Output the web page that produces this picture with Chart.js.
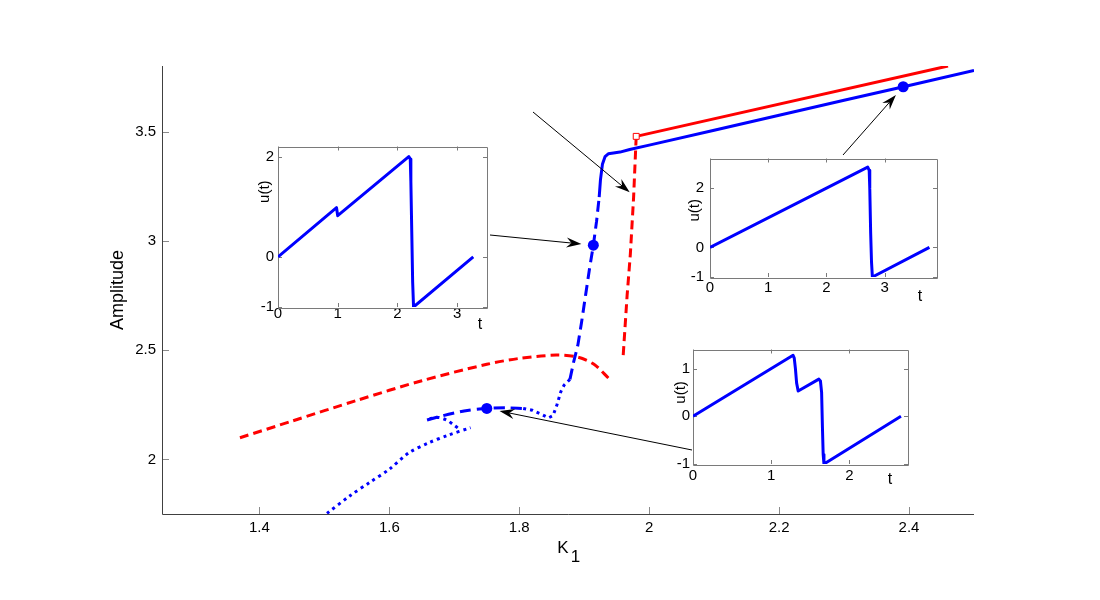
<!DOCTYPE html>
<html>
<head>
<meta charset="utf-8">
<script src="https://cdn.jsdelivr.net/npm/chart.js@4/dist/chart.umd.min.js"></script>
<style>
    html, body { margin: 0; padding: 0; background: #fff; }
    #wrap { position: relative; width: 1100px; height: 600px; overflow: hidden; }
    #wrap canvas { position: absolute; }
</style>
</head>
<body>
<div id="wrap">
    <canvas id="main" width="1100" height="600" style="left:0;top:0;width:1100px;height:600px"></canvas>
    <canvas id="inset1" width="259" height="202" style="left:238px;top:135px;width:259px;height:202px"></canvas>
    <canvas id="inset2" width="277" height="162" style="left:670px;top:145px;width:277px;height:162px"></canvas>
    <canvas id="inset3" width="265" height="155" style="left:653px;top:339px;width:265px;height:155px"></canvas>
</div>
<script>
// ---- main diagram: amplitude vs K1 ----
const kTicks = [1.4, 1.6, 1.8, 2, 2.2, 2.4];
const kTickLabels = ['1.4', '1.6', '1.8', '2', '2.2', '2.4'];
const ampTicks = [2, 2.5, 3, 3.5];
const ampTickLabels = ['2', '2.5', '3', '3.5'];

// blue branch, stable part (solid)
const blueSolidK = [1.923, 1.925, 1.928, 1.932, 1.937, 1.945, 1.955, 1.97, 2.0, 2.1, 2.2, 2.3, 2.4, 2.5];
const blueSolidA = [3.20, 3.28, 3.35, 3.385, 3.398, 3.402, 3.406, 3.418, 3.438, 3.506, 3.575, 3.643, 3.711, 3.78];
// blue branch, dashed parts
const blueDashUpK = [1.878, 1.884, 1.890, 1.896, 1.902, 1.908, 1.914, 1.919, 1.923];
const blueDashUpA = [2.366, 2.45, 2.52, 2.63, 2.75, 2.87, 2.98, 3.09, 3.20];
const blueDashLowK = [1.658, 1.68, 1.70, 1.72, 1.75, 1.78, 1.806];
const blueDashLowA = [2.180, 2.198, 2.212, 2.224, 2.233, 2.236, 2.233];
// blue branch, dotted parts
const blueDotMidK = [1.806, 1.82, 1.835, 1.845, 1.852, 1.858, 1.864, 1.869, 1.878];
const blueDotMidA = [2.233, 2.225, 2.205, 2.19, 2.20, 2.25, 2.31, 2.34, 2.366];
const blueHookK = [1.662, 1.675, 1.688, 1.698, 1.708];
const blueHookA = [2.186, 2.192, 2.18, 2.16, 2.138];
const blueDotLowK = [1.504, 1.54, 1.57, 1.60, 1.63, 1.66, 1.69, 1.725];
const blueDotLowA = [1.753, 1.835, 1.895, 1.955, 2.03, 2.075, 2.11, 2.145];

// red branch
const redSolidK = [1.98, 2.46];
const redSolidA = [3.478, 3.80];
const redDashUpK = [1.960, 1.966, 1.971, 1.976, 1.980];
const redDashUpA = [2.477, 2.75, 2.94, 3.20, 3.478];
const redDashLowK = [1.37, 1.45, 1.55, 1.65, 1.75, 1.80, 1.857, 1.89, 1.915, 1.938];
const redDashLowA = [2.099, 2.175, 2.27, 2.36, 2.435, 2.462, 2.477, 2.468, 2.435, 2.37];

// marked solutions (shown in the insets) and the fold point
const dotK = [1.914, 1.75, 2.391];
const dotA = [2.98, 2.233, 3.705];
const squareK = [1.98];
const squareA = [3.478];

// ---- insets: u(t) over one period ----
const inset1T = [0, 0.98, 1.0, 2.19, 2.215, 2.225, 2.24, 2.255, 2.27, 3.27];
const inset1U = [0, 0.98, 0.82, 2.0, 1.95, 1.5, 0.5, -0.5, -1.0, 0];
const inset1TTicks = [0, 1, 2, 3];
const inset1UTicks = [-1, 0, 2];

const inset2T = [0, 2.71, 2.735, 2.745, 2.76, 2.775, 2.79, 3.77];
const inset2U = [0, 2.71, 2.6, 2.0, 0.5, -0.5, -1.0, 0];
const inset2TTicks = [0, 1, 2, 3];
const inset2UTicks = [-1, 0, 2];

const inset3T = [0, 1.28, 1.295, 1.31, 1.325, 1.345, 1.61, 1.63, 1.645, 1.655, 1.665, 1.675, 2.66];
const inset3U = [0, 1.28, 1.22, 1.0, 0.7, 0.53, 0.78, 0.74, 0.5, -0.2, -0.8, -1.0, 0];
const inset3TTicks = [0, 1, 2];
const inset3UTicks = [-1, 0, 1];

Chart.defaults.font.family = '"Liberation Sans", Arial, Helvetica, sans-serif';
Chart.defaults.color = '#000';

const BLUE = '#0000ff';
const RED = '#ff0000';

const pts = (xs, ys) => xs.map((x, i) => ({ x: x, y: ys[i] }));

function lineSet(xs, ys, color, dash, tension) {
    return {
        data: pts(xs, ys),
        borderColor: color,
        backgroundColor: color,
        borderWidth: 3,
        borderDash: dash || [],
        borderJoinStyle: 'round',
        pointRadius: 0,
        tension: tension || 0,
        fill: false
    };
}

// box, inward ticks and axis titles (drawn under the curves)
const framePlugin = {
    id: 'frame',
    beforeDatasetsDraw(chart, args, o) {
        const { ctx, chartArea: a, scales } = chart;
        ctx.save();
        if (o.fill) {
            ctx.fillStyle = o.fill;
            ctx.fillRect(a.left, a.top, a.right - a.left, a.bottom - a.top);
        }
        ctx.lineWidth = 1;
        ctx.strokeStyle = o.tickColor;
        ctx.beginPath();
        scales.x.ticks.forEach(t => {
            const px = Math.round(scales.x.getPixelForValue(t.value)) + 0.5;
            ctx.moveTo(px, a.bottom); ctx.lineTo(px, a.bottom - o.tickLen);
            if (o.box) { ctx.moveTo(px, a.top); ctx.lineTo(px, a.top + o.tickLen); }
        });
        scales.y.ticks.forEach(t => {
            const py = Math.round(scales.y.getPixelForValue(t.value)) + 0.5;
            ctx.moveTo(a.left, py); ctx.lineTo(a.left + o.tickLen, py);
            if (o.box) { ctx.moveTo(a.right, py); ctx.lineTo(a.right - o.tickLen, py); }
        });
        ctx.stroke();

        ctx.strokeStyle = o.axisColor;
        const l = Math.round(a.left) + 0.5, b = Math.round(a.bottom) + 0.5;
        ctx.beginPath();
        if (o.box) {
            ctx.rect(l, Math.round(a.top) + 0.5, Math.round(a.right - a.left), Math.round(a.bottom - a.top));
        } else {
            ctx.moveTo(l, a.top); ctx.lineTo(l, b); ctx.lineTo(a.right, b);
        }
        ctx.stroke();

        // y title, rotated
        ctx.fillStyle = '#000';
        ctx.font = o.yTitleSize + 'px ' + Chart.defaults.font.family;
        ctx.textAlign = 'center';
        ctx.textBaseline = 'middle';
        const yMid = o.yTitleAt !== undefined ? scales.y.getPixelForValue(o.yTitleAt) : (a.top + a.bottom) / 2;
        ctx.save();
        ctx.translate(a.left + o.yTitleDx, yMid);
        ctx.rotate(-Math.PI / 2);
        ctx.fillText(o.yTitle, 0, 0);
        ctx.restore();

        // x title, optional subscript
        ctx.font = o.xTitleSize + 'px ' + Chart.defaults.font.family;
        const xc = o.xTitleFromRight ? a.right + o.xTitleDx : (a.left + a.right) / 2 + o.xTitleDx;
        const yc = a.bottom + o.xTitleDy;
        if (o.xSub) {
            const w = ctx.measureText(o.xTitle).width;
            ctx.textAlign = 'left';
            ctx.fillText(o.xTitle, xc - w / 2 - 4, yc);
            ctx.fillText(o.xSub, xc + w / 2 - 2, yc + 9);
        } else {
            ctx.fillText(o.xTitle, xc, yc);
        }
        ctx.restore();
    }
};

// arrows from the insets to the marked points
const arrowPlugin = {
    id: 'arrows',
    afterDatasetsDraw(chart, args, o) {
        const { ctx, scales } = chart;
        ctx.save();
        ctx.strokeStyle = '#000';
        ctx.fillStyle = '#000';
        ctx.lineWidth = 1;
        o.items.forEach(it => {
            const [x0, y0] = it.from;
            let x1 = scales.x.getPixelForValue(it.k);
            let y1 = scales.y.getPixelForValue(it.a);
            const ang = Math.atan2(y1 - y0, x1 - x0);
            x1 -= Math.cos(ang) * it.gap;
            y1 -= Math.sin(ang) * it.gap;
            const L = 15, W = 5, N = 10;
            ctx.beginPath();
            ctx.moveTo(x0, y0);
            ctx.lineTo(x1 - Math.cos(ang) * N, y1 - Math.sin(ang) * N);
            ctx.stroke();
            ctx.save();
            ctx.translate(x1, y1);
            ctx.rotate(ang);
            ctx.beginPath();
            ctx.moveTo(0, 0);
            ctx.lineTo(-L, -W);
            ctx.lineTo(-N, 0);
            ctx.lineTo(-L, W);
            ctx.closePath();
            ctx.fill();
            ctx.restore();
        });
        ctx.restore();
    }
};

function fixedTicks(values) {
    return axis => { axis.ticks = values.map(v => ({ value: v })); };
}

new Chart(document.getElementById('main'), {
    type: 'line',
    data: {
        datasets: [
            {
                data: pts(dotK, dotA), showLine: false,
                pointRadius: 5.5, pointBackgroundColor: BLUE, pointBorderWidth: 0
            },
            {
                data: pts(squareK, squareA), showLine: false, pointStyle: 'rect',
                pointRadius: 4.2, pointBackgroundColor: '#fff', pointBorderColor: RED, pointBorderWidth: 1
            },
            lineSet(blueSolidK, blueSolidA, BLUE),
            lineSet(blueDashUpK, blueDashUpA, BLUE, [11, 6]),
            lineSet(blueDashLowK, blueDashLowA, BLUE, [11, 6], 0.3),
            lineSet(blueDotMidK, blueDotMidA, BLUE, [3, 4]),
            lineSet(blueHookK, blueHookA, BLUE, [3, 4], 0.3),
            lineSet(blueDotLowK, blueDotLowA, BLUE, [3, 4], 0.3),
            lineSet(redSolidK, redSolidA, RED),
            lineSet(redDashUpK, redDashUpA, RED, [9, 5]),
            lineSet(redDashLowK, redDashLowA, RED, [9, 5], 0.3)
        ]
    },
    options: {
        responsive: false,
        animation: false,
        layout: { padding: { left: 0, top: 66, right: 126, bottom: 0 } },
        plugins: {
            legend: { display: false },
            tooltip: { enabled: false },
            frame: {
                box: false, tickLen: 7, tickColor: '#8a8a8a', axisColor: '#404040',
                yTitle: 'Amplitude', yTitleSize: 18, yTitleDx: -44,
                xTitle: 'K', xSub: '1', xTitleSize: 17, xTitleDx: -1, xTitleDy: 34
            },
            arrows: {
                items: [
                    { from: [490, 235], k: 1.914, a: 2.98, gap: 12 },
                    { from: [533, 112], k: 1.970, a: 3.222, gap: 0 },
                    { from: [843, 155], k: 2.391, a: 3.705, gap: 11 },
                    { from: [692, 450], k: 1.75, a: 2.233, gap: 13 }
                ]
            }
        },
        scales: {
            x: {
                type: 'linear', min: 1.25, max: 2.5,
                afterBuildTicks: fixedTicks(kTicks),
                afterFit: axis => { axis.height = 86; },
                grid: { display: false, drawTicks: false }, border: { display: false },
                ticks: {
                    autoSkip: false, maxRotation: 0, padding: 6.5,
                    font: { size: 15, lineHeight: 1 },
                    callback: (v, i) => kTickLabels[i]
                }
            },
            y: {
                type: 'linear', min: 1.75, max: 3.8,
                afterBuildTicks: fixedTicks(ampTicks),
                afterFit: axis => { axis.width = 162; },
                grid: { display: false, drawTicks: false }, border: { display: false },
                ticks: {
                    padding: 6,
                    font: { size: 15, lineHeight: 1 },
                    callback: (v, i) => ampTickLabels[i]
                }
            }
        }
    },
    plugins: [framePlugin, arrowPlugin]
});

function makeInset(id, ts, us, tTicks, uTicks, tMax, uMin, uMax, look) {
    new Chart(document.getElementById(id), {
        type: 'line',
        data: { datasets: [lineSet(ts, us, BLUE)] },
        options: {
            responsive: false,
            animation: false,
            layout: { padding: { left: 0, top: 10, right: 10, bottom: 0 } },
            plugins: {
                legend: { display: false },
                tooltip: { enabled: false },
                frame: {
                    box: true, fill: '#fff', tickLen: 4, tickColor: '#7a7a7a', axisColor: '#7a7a7a',
                    yTitle: 'u(t)', yTitleSize: 15, yTitleDx: look.uDx, yTitleAt: look.uAt,
                    xTitle: 't', xTitleSize: 16, xTitleFromRight: true, xTitleDx: look.tDx, xTitleDy: look.tDy
                }
            },
            scales: {
                x: {
                    type: 'linear', min: 0, max: tMax,
                    afterBuildTicks: fixedTicks(tTicks),
                    afterFit: axis => { axis.height = 30; },
                    grid: { display: false, drawTicks: false }, border: { display: false },
                    ticks: {
                        autoSkip: false, maxRotation: 0, padding: look.xPad,
                        font: { size: 15, lineHeight: 1 },
                        callback: v => String(v)
                    }
                },
                y: {
                    type: 'linear', min: uMin, max: uMax,
                    afterBuildTicks: fixedTicks(uTicks),
                    afterFit: axis => { axis.width = 40; },
                    grid: { display: false, drawTicks: false }, border: { display: false },
                    ticks: {
                        padding: look.yPad,
                        font: { size: 15, lineHeight: 1 },
                        callback: v => String(v)
                    }
                }
            }
        },
        plugins: [framePlugin]
    });
}

makeInset('inset1', inset1T, inset1U, inset1TTicks, inset1UTicks, 3.5, -1, 2.2,
    { uDx: -13, uAt: 1.3, tDx: -7, tDy: 18, xPad: -1, yPad: 4 });
makeInset('inset2', inset2T, inset2U, inset2TTicks, inset2UTicks, 3.9, -1, 3,
    { uDx: -15, uAt: 1.25, tDx: -17, tDy: 20, xPad: 3, yPad: 6 });
makeInset('inset3', inset3T, inset3U, inset3TTicks, inset3UTicks, 2.75, -1, 1.4,
    { uDx: -12, uAt: 0.5, tDx: -18, tDy: 16, xPad: 4.5, yPad: 3 });
</script>
</body>
</html>
